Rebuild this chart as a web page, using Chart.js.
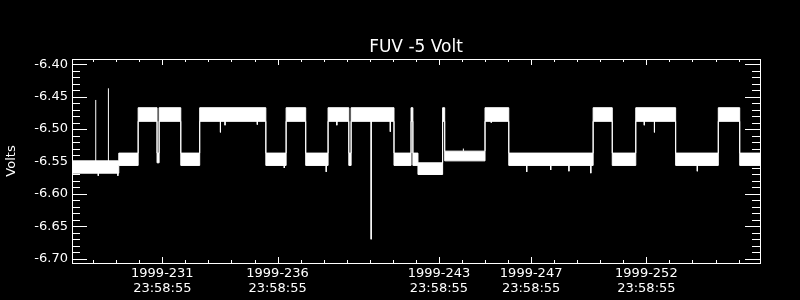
<!DOCTYPE html>
<html>
<head>
<meta charset="utf-8">
<script src="https://cdn.jsdelivr.net/npm/chart.js@4/dist/chart.umd.min.js"></script>
<style>
  html, body { margin: 0; padding: 0; background: #000; }
  canvas { display: block; }
</style>
</head>
<body>
<canvas id="myChart" width="800" height="300"></canvas>
<script>
// day of 1999 (whole day = 23:58:55), start of each level step
const days = [227.08, 229.11, 229.95, 230.77, 230.86, 231.80, 232.62, 235.49, 236.37, 237.22,
              238.19, 239.09, 239.19, 241.05, 241.79, 241.87, 242.09, 243.16, 243.25, 245.00,
              246.03, 249.69, 250.52, 251.54, 253.27, 255.12, 256.05, 256.93];
// top and bottom of the noise band for each step
const upper = [-6.549, -6.537, -6.467, -6.537, -6.467, -6.537, -6.467, -6.537, -6.467, -6.537,
               -6.467, -6.537, -6.467, -6.537, -6.467, -6.537, -6.552, -6.467, -6.534, -6.467,
               -6.537, -6.467, -6.537, -6.467, -6.537, -6.467, -6.537, -6.537];
const lower = [-6.568, -6.556, -6.488, -6.552, -6.488, -6.556, -6.488, -6.556, -6.488, -6.556,
               -6.488, -6.556, -6.488, -6.556, -6.488, -6.556, -6.570, -6.488, -6.549, -6.488,
               -6.556, -6.488, -6.556, -6.488, -6.556, -6.488, -6.556, -6.556];

// single samples sticking out of the band
const spikeDays = [228.11, 228.66, 240.06, 233.52, 252.35, 251.91, 240.89, 246.81, 249.59, 238.11,
                   236.29, 229.07, 248.64, 247.85, 254.21, 235.12, 233.72, 228.22, 238.57, 244.06,
                   245.27];
const spikeFrom = [-6.550, -6.550, -6.470, -6.487, -6.487, -6.487, -6.487, -6.556, -6.556, -6.556,
                   -6.556, -6.568, -6.556, -6.556, -6.556, -6.487, -6.487, -6.568, -6.487, -6.534,
                   -6.487];
const spikeTo   = [-6.455, -6.437, -6.670, -6.505, -6.505, -6.494, -6.504, -6.566, -6.568, -6.566,
                   -6.560, -6.572, -6.565, -6.563, -6.565, -6.493, -6.494, -6.572, -6.494, -6.530,
                   -6.490];

const labelDays = [231, 236, 243, 247, 252];
const labelDates = ['1999-231', '1999-236', '1999-243', '1999-247', '1999-252'];
const labelTime = '23:58:55';
const yTicks = [-6.70, -6.65, -6.60, -6.55, -6.50, -6.45, -6.40];

const spikeData = [];
spikeDays.forEach((d, i) => {
    spikeData.push({x: d, y: spikeFrom[i]}, {x: d, y: spikeTo[i]}, {x: d, y: null});
});

// IDL style frame with inward ticks on all four sides
const frame = {
    id: 'frame',
    afterDatasetsDraw(chart) {
        const {ctx, chartArea: a, scales: {x, y}} = chart;
        ctx.save();
        ctx.strokeStyle = '#fff';
        ctx.lineWidth = 1;
        ctx.strokeRect(Math.round(a.left) + 0.5, Math.round(a.top) + 0.5,
                       Math.round(a.right - a.left), Math.round(a.bottom - a.top));
        ctx.beginPath();
        for (let d = 228; d <= 256; d++) {
            const px = Math.round(x.getPixelForValue(d)) + 0.5;
            const len = labelDays.includes(d) ? 6 : 3;
            ctx.moveTo(px, a.bottom); ctx.lineTo(px, a.bottom - len);
            ctx.moveTo(px, a.top); ctx.lineTo(px, a.top + len);
        }
        for (let i = 0; i <= 30; i++) {
            const v = -6.70 + i * 0.01;
            const py = Math.round(y.getPixelForValue(v)) + 0.5;
            const len = i % 5 === 0 ? 15 : 8;
            ctx.moveTo(a.left, py); ctx.lineTo(a.left + len, py);
            ctx.moveTo(a.right, py); ctx.lineTo(a.right - len, py);
        }
        ctx.stroke();
        ctx.restore();
    }
};

Chart.defaults.font.family = 'DejaVu Sans';
Chart.defaults.color = '#fff';

const ctx = document.getElementById('myChart');
const myChart = new Chart(ctx, {
    type: 'line',
    data: {
        datasets: [{
            data: days.map((d, i) => ({x: d, y: upper[i]})),
            stepped: true,
            borderColor: '#fff',
            borderWidth: 1,
            pointRadius: 0,
            fill: false
        }, {
            data: days.map((d, i) => ({x: d, y: lower[i]})),
            stepped: true,
            borderColor: '#fff',
            borderWidth: 1,
            pointRadius: 0,
            backgroundColor: '#fff',
            fill: '-1'
        }, {
            data: spikeData,
            borderColor: '#fff',
            borderWidth: 1,
            pointRadius: 0,
            spanGaps: false,
            fill: false
        }]
    },
    options: {
        responsive: false,
        animation: false,
        devicePixelRatio: 1,
        layout: { padding: { right: 40 } },
        plugins: {
            legend: { display: false },
            tooltip: { enabled: false },
            title: {
                display: true,
                text: 'FUV -5 Volt',
                fullSize: false,
                color: '#fff',
                font: { size: 17, weight: 'normal' },
                padding: { top: 37, bottom: 1.6 }
            }
        },
        scales: {
            x: {
                type: 'linear',
                min: 227.08,
                max: 256.93,
                grid: { display: false, drawTicks: false },
                border: { display: false },
                afterBuildTicks: s => { s.ticks = labelDays.map(v => ({value: v})); },
                afterFit: s => { s.height = 37; },
                ticks: {
                    autoSkip: false,
                    maxRotation: 0,
                    minRotation: 0,
                    padding: 3,
                    font: { size: 13, lineHeight: 1.15 },
                    callback: (v, i) => [labelDates[i], labelTime]
                }
            },
            y: {
                min: -6.7066,
                max: -6.3918,
                grid: { display: false, drawTicks: false },
                border: { display: false },
                afterBuildTicks: s => { s.ticks = yTicks.map(v => ({value: v})); },
                afterFit: s => { s.width = 72; },
                title: {
                    display: true,
                    text: 'Volts',
                    font: { size: 13 },
                    padding: { top: 4, bottom: 0 }
                },
                ticks: {
                    padding: 4,
                    font: { size: 13 },
                    callback: v => v.toFixed(2)
                }
            }
        }
    },
    plugins: [frame]
});
</script>
</body>
</html>
